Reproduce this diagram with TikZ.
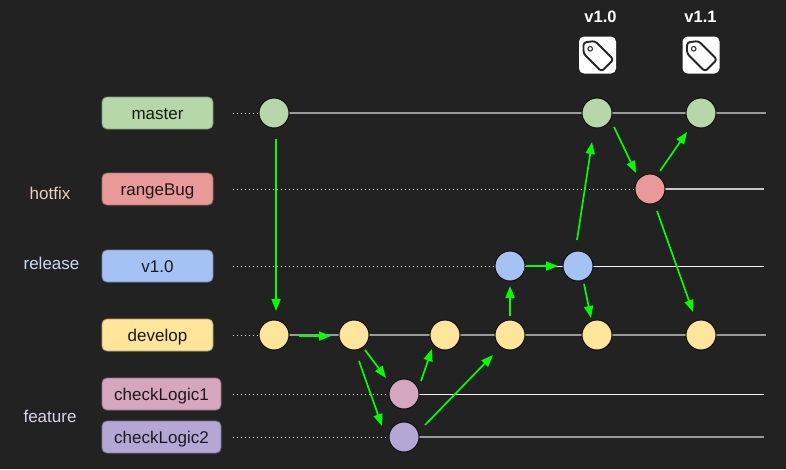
\documentclass[tikz,border=0pt]{standalone}
\usepackage{fontspec}
\setmainfont{Liberation Sans}
\usetikzlibrary{calc,arrows.meta}
\definecolor{bg}{HTML}{222222}
\definecolor{cgreen}{HTML}{B6D7A8}
\definecolor{cred}{HTML}{EA9999}
\definecolor{cblue}{HTML}{A4C2F4}
\definecolor{cyellow}{HTML}{FFE599}
\definecolor{cpink}{HTML}{D5A6BD}
\definecolor{cpurple}{HTML}{B4A7D6}
\definecolor{lred}{HTML}{F4CCBB}
\definecolor{lblue}{HTML}{C9DAF8}
\definecolor{lpurple}{HTML}{D9D2E9}
\definecolor{darkedge}{HTML}{111111}
\definecolor{inktext}{HTML}{1A1A1A}
\tikzset{
  lab/.style={draw=#1!70!black,fill=#1,rounded corners=5pt,line width=0.8pt,minimum width=111pt,minimum height=32pt,inner sep=0pt,font=\fontsize{17}{20}\selectfont,text=inktext,text height=15pt,text depth=3pt},
  widelab/.style={lab=#1,minimum width=119pt},
  commit/.style={circle,draw=darkedge,fill=#1,line width=1pt,minimum size=30pt,inner sep=0pt},
  side/.style={text=#1,font=\fontsize{17}{20}\selectfont,inner sep=0pt,anchor=base},
  ver/.style={text=white,font=\fontsize{16.5}{20}\selectfont\bfseries,inner sep=0pt,anchor=base},
  guide/.style={white!90!black,line width=1pt,dash pattern=on 1pt off 3pt},
  graytrunk/.style={color=white!60!black,line width=2pt},
  midtrunk/.style={color=white!78!black,line width=1.5pt},
  whitetrunk/.style={color=white!95!black,line width=1pt},
  flow/.style={color=green,line width=1.7pt,-{Triangle[length=12pt,width=9pt]}},
  tagbox/.style={fill=white,draw=none,rounded corners=5pt,minimum size=37pt,inner sep=0pt},
}
\begin{document}
\begin{tikzpicture}[x=1pt,y=-1pt]
\fill[bg] (0,0) rectangle (786,469);
\useasboundingbox (0,0) rectangle (786,469);
% labels
\node[lab=cgreen] (lmaster) at (157.5,113) {master};
\node[lab=cred] (lrange) at (157.5,189) {rangeBug};
\node[lab=cblue] (lrel) at (157.5,266) {v1.0};
\node[lab=cyellow] (ldev) at (157.5,335) {develop};
\node[widelab=cpink] (lc1) at (161.5,394) {checkLogic1};
\node[widelab=cpurple] (lc2) at (161.5,437) {checkLogic2};
\node[side=lred] (shot) at (50,199) {hotfix};
\node[side=lblue] (srel) at (51.5,269) {release};
\node[side=lpurple] (sfeat) at (50,422.7) {feature};
% line ends
\coordinate (gm) at (233,113);
\coordinate (gr) at (233,189);
\coordinate (gv) at (233,266);
\coordinate (gd) at (233,335);
\coordinate (gc) at (233,394);
\coordinate (ge) at (233,437);
\coordinate (em) at (766,113);
\coordinate (er) at (764,189);
\coordinate (ev) at (764,266);
\coordinate (ed) at (766,335);
\coordinate (ec) at (764,394);
\coordinate (ee) at (764,437);
% commits positions
\coordinate (pm0) at (274,113);
\coordinate (pm2) at (597,113);
\coordinate (pm3) at (701,113);
\coordinate (ph) at (650,189);
\coordinate (pr1) at (510,266);
\coordinate (pr2) at (578,266);
\coordinate (pd1) at (274,335);
\coordinate (pc1) at (404,394);
\coordinate (pc2) at (404,437);
% branch lines
\draw[guide] (gm) -- (pm0);
\draw[guide] (gr) -- (ph);
\draw[guide] (gv) -- (pr1);
\draw[guide] (gd) -- (pd1);
\draw[guide] (gc) -- (pc1);
\draw[guide] (ge) -- (pc2);
\draw[graytrunk] (pm0) -- (em);
\draw[midtrunk] (ph) -- (er);
\draw[whitetrunk] (pr1) -- (ev);
\draw[graytrunk] (pd1) -- (ed);
\draw[whitetrunk] (pc1) -- (ec);
\draw[graytrunk] (pc2) -- (ee);
% commits
\node[commit=cgreen] (m0) at (pm0) {};
\node[commit=cgreen] (m2) at (pm2) {};
\node[commit=cgreen] (m3) at (pm3) {};
\node[commit=cred] (h) at (ph) {};
\node[commit=cblue] (r1) at (pr1) {};
\node[commit=cblue] (r2) at (pr2) {};
\node[commit=cyellow] (d1) at (pd1) {};
\node[commit=cyellow] (d2) at (354,335) {};
\node[commit=cyellow] (d3) at (445,335) {};
\node[commit=cyellow] (d4) at (510,335) {};
\node[commit=cyellow] (d5) at (597,335) {};
\node[commit=cyellow] (d6) at (701,335) {};
\node[commit=cpink] (c1) at (pc1) {};
\node[commit=cpurple] (c2) at (pc2) {};
% flows
\draw[flow] ($(m0)+(2,26)$) -- ($(d1)+(2,-24)$);
\draw[flow] ($(d1)+(25,1)$) -- ($(d2)+(-23,1)$);
\draw[flow] ($(d2)+(11,15)$) -- ($(c1)+(-18,-16)$);
\draw[flow] ($(d2)+(5,26)$) -- ($(c2)+(-22,-11)$);
\draw[flow] ($(c1)+(17,-13)$) -- ($(d3)+(-13,14)$);
\draw[flow] ($(c2)+(21,-12)$) -- ($(d4)+(-17,20)$);
\draw[flow] ($(d4)+(0,-19)$) -- ($(r1)+(0,20)$);
\draw[flow] ($(r1)+(16,0)$) -- ($(r2)+(-20,0)$);
\draw[flow] ($(r2)+(6,18)$) -- ($(d5)+(-6,-17)$);
\draw[flow] ($(r2)+(-1,-26)$) -- ($(m2)+(-5,29)$);
\draw[flow] ($(m2)+(17,14)$) -- ($(h)+(-14,-16)$);
\draw[flow] ($(h)+(10,-18)$) -- ($(m3)+(-14,19)$);
\draw[flow] ($(h)+(7,22)$) -- ($(d6)+(-8,-23)$);
% versions
\node[ver] (v10) at (600.5,22.7) {v1.0};
\node[ver] (v11) at (700.5,22.7) {v1.1};
\foreach \n/\x in {t10/597.5,t11/701} {
  \node[tagbox] (\n) at (\x,55) {};
  \begin{scope}[shift={(\x,55)}]
    \draw[black!85,line width=1.9pt,line join=round,rounded corners=2.8pt]
      (-14,-12.5) -- (-2.5,-14) -- (16,4.5) -- (4,16.5) -- (-14,-1.5) -- cycle;
    \draw[black!80,line width=1.1pt] (-7.3,-6.2) circle (2.3);
  \end{scope}
}
\end{tikzpicture}
\end{document}
